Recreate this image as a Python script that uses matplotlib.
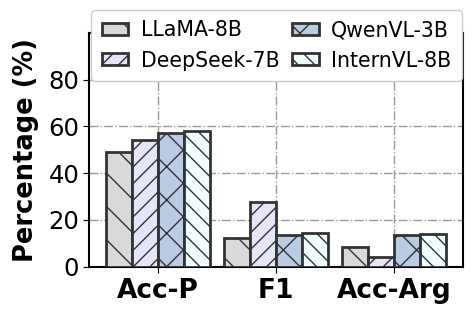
import matplotlib
matplotlib.use("Agg")
import matplotlib.pyplot as plt
import numpy as np

categories = ["Acc-P", "F1", "Acc-Arg"]
models = ["LLaMA-8B", "DeepSeek-7B", "QwenVL-3B", "InternVL-8B"]
llama = [49.0, 12.0, 8.5]
deepseek = [54.0, 27.5, 4.2]
qwen = [57.0, 13.3, 13.4]
intern = [58.0, 14.4, 14.0]
yticks = [0, 20, 40, 60, 80]

series = [llama, deepseek, qwen, intern]
colors = ["#d9d9d9", "#e6e6fa", "#b9cce4", "#efffff"]
hatches = ["\\", "//", "x", "\\\\"]

fig = plt.figure(figsize=(4.73, 3.14), dpi=100)
ax = fig.add_axes([89/473, 1-266.5/314, (463-89)/473, (266.5-33)/314])

x = np.arange(len(categories))
w = 0.22
for i, (vals, c, h, lab) in enumerate(zip(series, colors, hatches, models)):
    ax.bar(x + (i - 1.5) * w, vals, w, color=c, edgecolor="#333333",
           linewidth=2.0, hatch=h, label=lab, zorder=3)

ax.set_ylim(0, 100)
ax.set_yticks(yticks)
ax.set_xticks(x)
ax.set_xticklabels(categories, fontsize=19, fontweight="bold")
ax.tick_params(axis="y", labelsize=17.5, length=4, pad=3)
ax.tick_params(axis="x", length=4, pad=4)
ax.set_ylabel("Percentage (%)", fontsize=18.5, fontweight="bold", labelpad=7)
ax.grid(True, linestyle="-.", color="gray", linewidth=1.0, alpha=0.8)
ax.set_axisbelow(True)
for s in ax.spines.values():
    s.set_linewidth(1.5)

leg = ax.legend(ncol=2, loc="upper center", fontsize=14.8,
                bbox_to_anchor=(276.5/473, 1-10/314), bbox_transform=fig.transFigure,
                borderaxespad=0, handlelength=1.3, handleheight=0.5,
                handletextpad=0.6, columnspacing=0.6, framealpha=1.0,
                labelspacing=0.5, borderpad=0.5)
leg.set_zorder(10)

fig.savefig("out.png", dpi=100)
